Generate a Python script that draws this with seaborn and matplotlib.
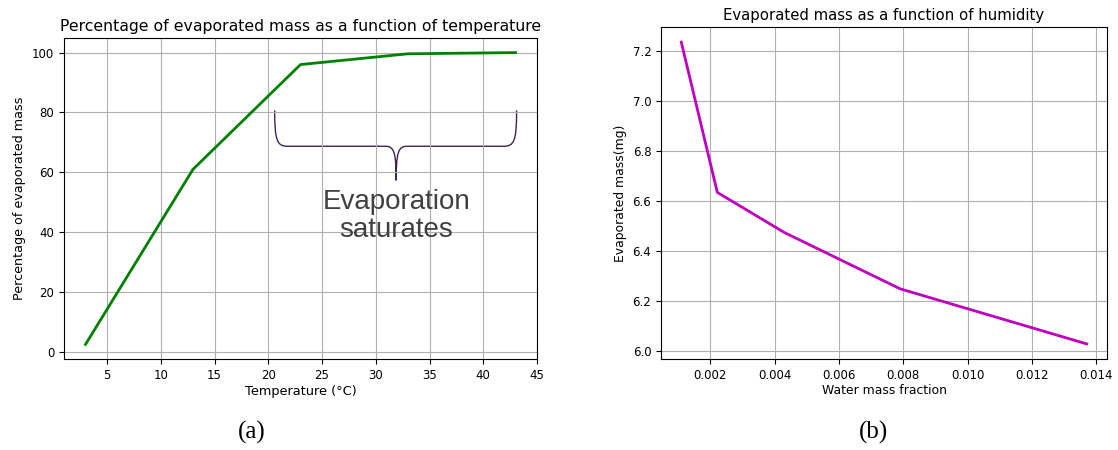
import numpy as np
import pandas as pd
import matplotlib
matplotlib.use("Agg")
import matplotlib.pyplot as plt
from matplotlib.path import Path
from matplotlib.patches import PathPatch
import seaborn as sns

# data
temperature = [3, 13, 23, 33, 43]
evap_percent = [2.5, 61.0, 96.0, 99.6, 100.0]

water_fraction = [0.0011, 0.00222, 0.0043, 0.0079, 0.0137]
evap_mass = [7.235, 6.635, 6.475, 6.25, 6.03]

df_temp = pd.DataFrame({"Temperature": temperature, "Percent": evap_percent})
df_hum = pd.DataFrame({"Fraction": water_fraction, "Mass": evap_mass})

plt.rcParams["font.family"] = "DejaVu Sans"
fig = plt.figure(figsize=(11.18, 4.5), dpi=100)

W, H = 1118, 450
ax1 = fig.add_axes([64 / W, 1 - 359 / H, (537 - 64) / W, (359 - 38) / H])
ax2 = fig.add_axes([661 / W, 1 - 359 / H, (1107 - 661) / W, (359 - 27) / H])

# (a) temperature
sns.lineplot(data=df_temp, x="Temperature", y="Percent", ax=ax1, color="green", linewidth=2)
ax1.set_title("Percentage of evaporated mass as a function of temperature", fontsize=11.3, pad=5)
ax1.set_xlabel("Temperature (°C)", fontsize=9.3, labelpad=2)
ax1.set_ylabel("Percentage of evaporated mass", fontsize=9.2, labelpad=4)
ax1.set_xticks([5, 10, 15, 20, 25, 30, 35, 40, 45])
ax1.set_yticks([0, 20, 40, 60, 80, 100])
ax1.tick_params(labelsize=8.5)
ax1.grid(True, color="#b0b0b0", linewidth=0.8)

# curly brace over the saturated part
xl, xr, xm = 20.6, 43.1, 31.9
ytop, ymid, ytip = 80.7, 68.7, 57.3
verts = [
    (xl, ytop), (xl, ymid + 2), (xl + 0.2, ymid), (xl + 1.2, ymid),
    (xm - 1.0, ymid),
    (xm - 0.2, ymid), (xm, ymid - 2), (xm, ytip),
    (xm, ymid - 2), (xm + 0.2, ymid), (xm + 1.0, ymid),
    (xr - 1.2, ymid),
    (xr - 0.2, ymid), (xr, ymid + 2), (xr, ytop),
]
codes = [Path.MOVETO, Path.CURVE4, Path.CURVE4, Path.CURVE4,
         Path.LINETO,
         Path.CURVE4, Path.CURVE4, Path.CURVE4,
         Path.CURVE4, Path.CURVE4, Path.CURVE4,
         Path.LINETO,
         Path.CURVE4, Path.CURVE4, Path.CURVE4]
ax1.add_patch(PathPatch(Path(verts, codes), facecolor="none", edgecolor="#3f2158", linewidth=1.0))
ax1.text(xm, 45.3, "Evaporation\nsaturates", ha="center", va="center", fontsize=20,
         family="Liberation Sans", color="#404040", linespacing=1.1)

# (b) humidity
sns.lineplot(data=df_hum, x="Fraction", y="Mass", ax=ax2, color="m", linewidth=2)
ax2.set_title("Evaporated mass as a function of humidity", fontsize=10.7, pad=5)
ax2.set_xlabel("Water mass fraction", fontsize=8.9, labelpad=2)
ax2.set_ylabel("Evaporated mass(mg)", fontsize=8.9, labelpad=4)
ax2.set_xticks([0.002, 0.004, 0.006, 0.008, 0.010, 0.012, 0.014])
ax2.set_yticks([6.0, 6.2, 6.4, 6.6, 6.8, 7.0, 7.2])
ax2.tick_params(labelsize=8.5)
ax2.grid(True, color="#b0b0b0", linewidth=0.8)

fig.text(252 / W, 1 - 432 / H, "(a)", ha="center", va="center", fontsize=18, family="Liberation Serif")
fig.text(873 / W, 1 - 432 / H, "(b)", ha="center", va="center", fontsize=18, family="Liberation Serif")

fig.savefig("out.png", dpi=100)
